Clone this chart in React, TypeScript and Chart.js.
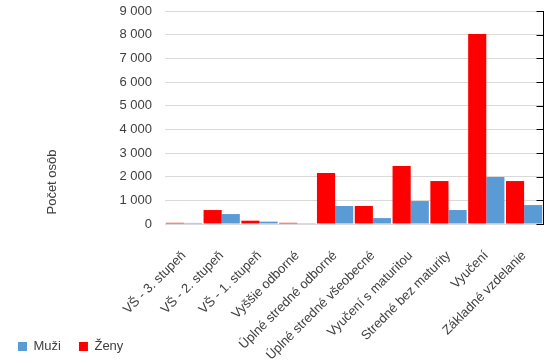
import React, { useEffect, useRef } from "react";
import { Chart, registerables } from "chart.js";

Chart.register(...registerables);

const categories = [
  "VŠ - 3. stupeň",
  "VŠ - 2. stupeň",
  "VŠ - 1. stupeň",
  "Vyššie odborné",
  "Úplné stredné odborné",
  "Úplné stredné všeobecné",
  "Vyučení s maturitou",
  "Stredné bez maturity",
  "Vyučení",
  "Základné vzdelanie",
];
const zenyValues = [50, 590, 140, 50, 2155, 760, 2450, 1815, 8025, 1815];
const muziValues = [45, 420, 100, 35, 760, 250, 970, 590, 1985, 800];
const yMax = 9000;
const yStep = 1000;
const yTitle = "Počet osôb";

const FONT = "Liberation Sans";
const TEXT = "#404040";

const fmt = (v: number) => String(v).replace(/\B(?=(\d{3})+(?!\d))/g, " ");

const decor = {
  id: "decor",
  afterDraw(chart: any) {
    const { ctx, chartArea, scales } = chart;
    const y = scales.y;
    ctx.save();
    ctx.strokeStyle = "#000000";
    ctx.lineWidth = 1;
    const x = Math.round(chartArea.right) + 0.5;
    ctx.beginPath();
    ctx.moveTo(x, chartArea.top);
    ctx.lineTo(x, chartArea.bottom + 1);
    y.ticks.forEach((t: any) => {
      const py = Math.round(y.getPixelForValue(t.value)) + 0.5;
      ctx.moveTo(x - 7, py);
      ctx.lineTo(x, py);
    });
    ctx.stroke();
    ctx.translate(52, chartArea.bottom - 42);
    ctx.rotate(-Math.PI / 2);
    ctx.fillStyle = TEXT;
    ctx.font = `13px "${FONT}"`;
    ctx.textAlign = "center";
    ctx.textBaseline = "middle";
    ctx.fillText(yTitle, 0, 0);
    ctx.restore();
  },
};

export default function App() {
  const ref = useRef<HTMLCanvasElement | null>(null);
  useEffect(() => {
    if (!ref.current) return;
    const chart = new Chart(ref.current, {
      type: "bar",
      data: {
        labels: categories,
        datasets: [
          {
            label: "Ženy",
            data: zenyValues,
            backgroundColor: "#ff0000",
            categoryPercentage: 0.96,
            barPercentage: 1,
          },
          {
            label: "Muži",
            data: muziValues,
            backgroundColor: "#5b9bd5",
            categoryPercentage: 0.96,
            barPercentage: 1,
          },
        ],
      },
      options: {
        responsive: false,
        animation: false,
        layout: { padding: { top: 11, right: 13, left: 0, bottom: 0 } },
        plugins: {
          legend: {
            position: "bottom",
            align: "start",
            reverse: true,
            labels: {
              boxWidth: 9,
              boxHeight: 9,
              padding: 18,
              color: TEXT,
              font: { family: FONT, size: 13 },
            },
          },
          tooltip: { enabled: false },
        },
        scales: {
          x: {
            grid: { display: false },
            border: { display: true, color: "#d9d9d9" },
            ticks: {
              autoSkip: false,
              maxRotation: 45,
              minRotation: 45,
              padding: 16,
              color: TEXT,
              font: { family: FONT, size: 13 },
            },
            afterFit: (s: any) => {
              s.height = 98;
              s.paddingTop = 0;
              s.paddingBottom = 0;
              s._computeLabelArea = () => undefined;
            },
          },
          y: {
            min: 0,
            max: yMax,
            grid: { color: "#d9d9d9", drawTicks: false },
            border: { display: false },
            ticks: {
              stepSize: yStep,
              padding: 13,
              color: TEXT,
              font: { family: FONT, size: 13 },
              callback: (v: any) => fmt(Number(v)),
            },
            afterFit: (s: any) => {
              s.width = 165;
              s.paddingTop = 0;
              s.paddingBottom = 0;
            },
          },
        },
      },
      plugins: [decor],
    });
    return () => chart.destroy();
  }, []);
  return (
    <div style={{ position: "fixed", left: 0, top: 0, width: 556, height: 363, background: "#fff" }}>
      <canvas ref={ref} width={556} height={363} />
    </div>
  );
}
